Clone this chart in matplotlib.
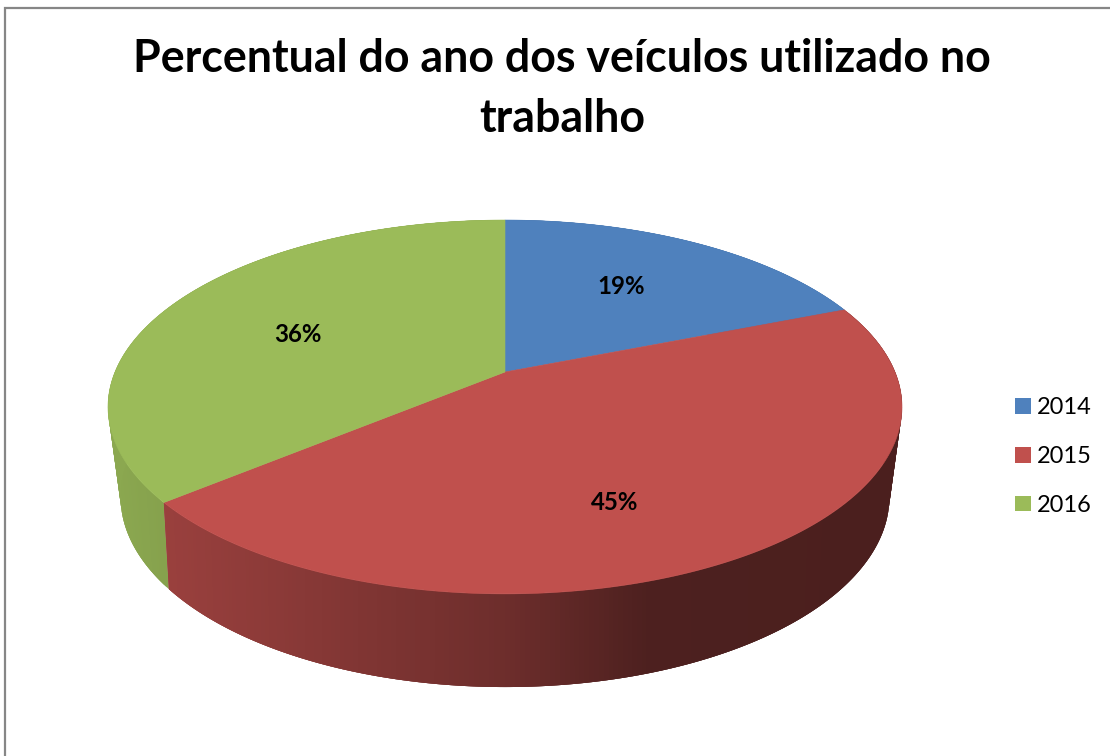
import numpy as np
import matplotlib
matplotlib.use("Agg")
import matplotlib.pyplot as plt
from matplotlib.patches import Patch, Polygon
from matplotlib.collections import PolyCollection
from matplotlib.colors import to_rgb

years = ["2014", "2015", "2016"]
shares = [19, 45, 36]
colors = ["#4F81BD", "#C0504D", "#9BBB59"]
title = "Percentual do ano dos veículos utilizado no\ntrabalho"
caption = "Gráfico 7 - Percentual do ano dos veículos utilizados na atividade"
label_xy = [(621, 287), (615, 503), (298, 335)]

plt.rcParams["font.family"] = ["Lato", "DejaVu Sans"]
fig = plt.figure(figsize=(11.10, 7.56), dpi=100)
ax = fig.add_axes([0, 0, 1, 1])
ax.set_xlim(0, 1110)
ax.set_ylim(756, 0)
ax.axis("off")


def project(theta, cx, cy, rx, ry, k):
    """Perspective view of a disc; theta runs clockwise from the back."""
    px, py = np.sin(theta), np.cos(theta)
    den = 1 + k * py
    return cx + rx * px / den, cy - ry * py / den


TOP = dict(cx=505, cy=372, rx=390, ry=180.4, k=0.187)
BOT = dict(cx=505, cy=455, rx=375, ry=181, k=0.22)

fractions = np.cumsum([0] + shares) / sum(shares)
edges = fractions * 2 * np.pi


def side_shade(x, idx):
    if idx == 1:
        f = np.interp(x, [165, 300, 505, 650, 905], [0.80, 0.71, 0.57, 0.40, 0.39])
    else:
        f = np.interp(x, [105, 170], [0.90, 0.86])
    return tuple(c * f for c in to_rgb(colors[idx]))


# sides: each strip runs under the next so that no seams show
for i in (0, 2, 1):
    n = max(int(shares[i] * 6), 2)
    t = np.linspace(edges[i], edges[i + 1], n + 1)
    xt, yt = project(t, **TOP)
    xb, yb = project(t, **BOT)
    polys, cols = [], []
    for j in range(n):
        e = min(j + 3, n)
        polys.append(list(zip(xt[j:e + 1], yt[j:e + 1]))
                     + list(zip(xb[j:e + 1][::-1], yb[j:e + 1][::-1])))
        cols.append(side_shade(0.5 * (xt[j] + xt[j + 1]), i))
    ax.add_collection(PolyCollection(polys, facecolors=cols, edgecolors="none",
                                     zorder=2 + 0.1 * (i == 1)))

# top face
for i in range(len(shares)):
    t = np.linspace(edges[i], edges[i + 1], 240)
    x, y = project(t, **TOP)
    pts = [(TOP["cx"], TOP["cy"])] + list(zip(x, y))
    ax.add_patch(Polygon(pts, closed=True, facecolor=colors[i],
                         edgecolor=colors[i], linewidth=0.4, zorder=3))

for s, (lx, ly) in zip(shares, label_xy):
    ax.text(lx, ly, f"{s}%", ha="center", va="center", fontsize=17.3,
            fontweight="bold", color="black", zorder=5)

ax.text(562, 89, title, ha="center", va="center", fontsize=32.2,
        fontweight="bold", color="black", linespacing=1.5)

# chart frame
ax.plot([4.5, 4.5, 1110], [756, 7.5, 7.5], color="#868686", lw=1.6,
        solid_joinstyle="miter", zorder=1)

# caption cropped by the top edge of the picture
ax.text(4, -2, caption, ha="left", va="baseline", fontsize=20.5, color="#333333")

handles = [Patch(facecolor=c, edgecolor="none") for c in colors]
ax.legend(handles, years, loc="upper left", bbox_to_anchor=(1006, 388),
          bbox_transform=ax.transData, frameon=False, fontsize=17,
          handlelength=0.64, handleheight=0.64, handletextpad=0.28,
          labelspacing=1.17, borderpad=0.4, borderaxespad=0)

fig.savefig("out.png", dpi=100, facecolor="white")
